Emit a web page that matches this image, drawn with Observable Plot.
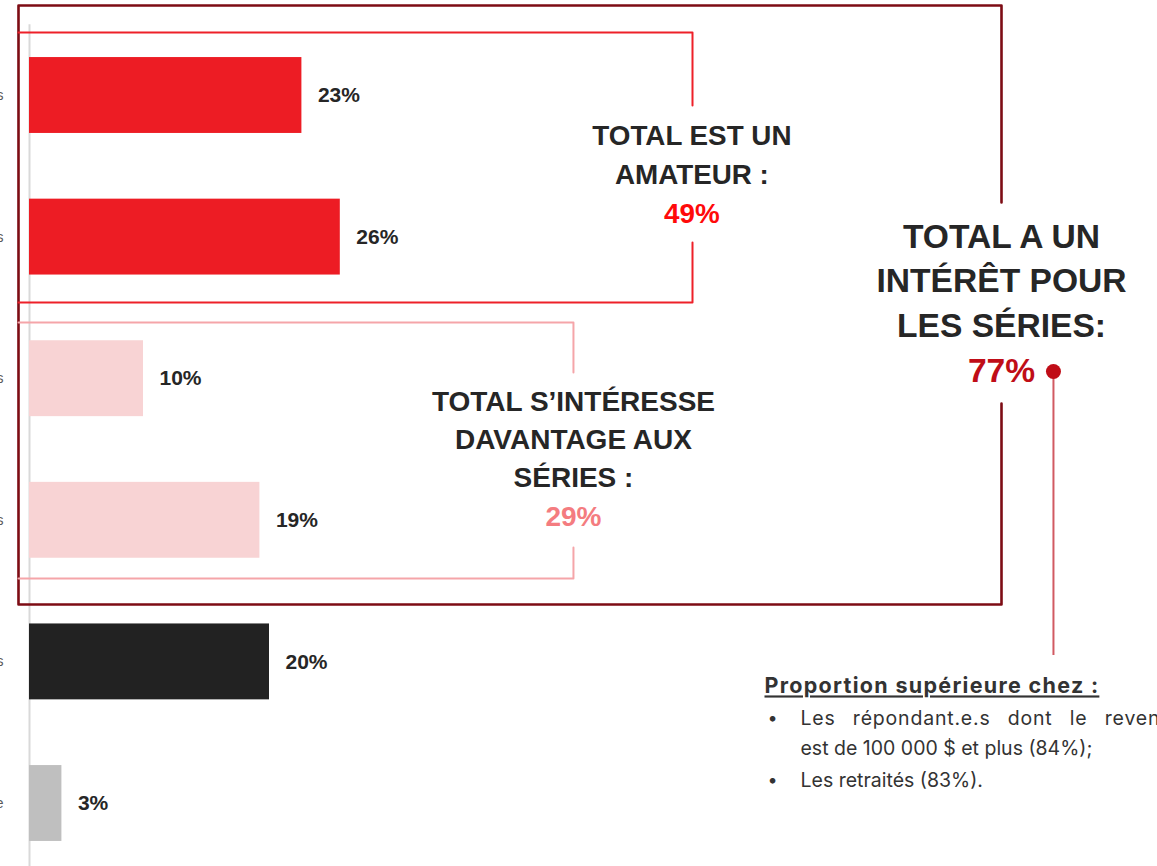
<!DOCTYPE html>
<html>
<head>
<meta charset="utf-8">
<script src="https://cdn.jsdelivr.net/npm/d3@7"></script>
<script src="https://cdn.jsdelivr.net/npm/@observablehq/plot@0.6"></script>
<style>
  html, body { margin: 0; padding: 0; background: #fff; overflow: hidden; }
  #chart svg { display: block; }
</style>
</head>
<body>
<div id="chart"></div>
<script>
// ---- data ----
const categories = [
  "Je suis un grand amateur de séries",
  "Je suis plutôt un amateur de séries",
  "Je m'intéresse beaucoup aux séries",
  "Je m'intéresse un peu aux séries",
  "Je ne m'intéresse pas aux séries",
  "Je ne sais pas / Préfère ne pas répondre"
];
const values = [22.7, 25.9, 9.5, 19.2, 20.0, 2.7];
const valueLabels = ["23%", "26%", "10%", "19%", "20%", "3%"];
const groups = ["amateur", "amateur", "interesse", "interesse", "non", "nsp"];

const amateurLines = ["TOTAL EST UN", "AMATEUR :"];
const amateurTotal = "49%";
const interesseLines = ["TOTAL S’INTÉRESSE", "DAVANTAGE AUX", "SÉRIES :"];
const interesseTotal = "29%";
const totalLines = ["TOTAL A UN", "INTÉRÊT POUR", "LES SÉRIES:"];
const totalValue = "77%";
const noteTitle = "Proportion supérieure chez :";
const noteBullets = ["Les répondant.e.s dont le revenu", "est de 100 000 $ et plus (84%);", "Les retraités (83%)."];
const noteBulletMarks = ["•", "", "•"];

// ---- styles ----
const groupColor = {amateur: "#ed1c24", interesse: "#f8d3d4", non: "#222222", nsp: "#bfbfbf"};
const half = 0.268;

const rows = categories.map((c, i) => ({i, c, v: values[i], label: valueLabels[i], g: groups[i]}));

// annotation geometry (in data units of the chart's scales)
const outerBox = [[81, 0.756], [81, -0.636], [-0.917, -0.636], [-0.917, 3.595], [81, 3.595], [81, 2.175]];
const redBoxA = [[-0.917, -0.445], [55.25, -0.445], [55.25, 0.071]];
const redBoxB = [[55.25, 1.038], [55.25, 1.462], [-0.917, 1.462]];
const pinkBoxA = [[-0.917, 1.603], [45.33, 1.603], [45.33, 1.956]];
const pinkBoxB = [[45.33, 3.192], [45.33, 3.411], [-0.917, 3.411]];

const amateurY = [0.29, 0.565];
const interesseY = [2.168, 2.436, 2.705];
const totalY = [1.003, 1.314, 1.631];
const noteY = [4.40, 4.612, 4.838];

const lineData = (pts, id) => pts.map(([x, y]) => ({x, y, id}));
const font = "'Liberation Sans', Arial, Helvetica, sans-serif";
const noteFont = "Inter, 'Liberation Sans', Arial, sans-serif";

const chart = Plot.plot({
  width: 1157,
  height: 866,
  marginLeft: 29,
  marginRight: 0,
  marginTop: 25,
  marginBottom: 0,
  style: {fontFamily: font, background: "#fff", overflow: "visible"},
  x: {domain: [0, 94], axis: null},
  y: {domain: [-0.5, 5.5], range: [24.2, 873.8], axis: null},
  marks: [
    Plot.ruleX([0], {stroke: "#d9d9d9", strokeWidth: 2, y1: -0.5, y2: 5.5}),
    Plot.axisY({ticks: [0,1,2,3,4,5], tickFormat: i => categories[i], tickSize: 0, tickPadding: 26, fontSize: 14, fill: "#595959", anchor: "left"}),
    Plot.rectX(rows, {x1: 0, x2: "v", y1: d => d.i - half, y2: d => d.i + half, fill: d => groupColor[d.g]}),
    Plot.text(rows, {x: "v", y: "i", text: "label", dx: 16, textAnchor: "start", fontSize: 21, fontWeight: "bold", fill: "#262626"}),
    // boxes
    Plot.line(lineData(outerBox, "o"), {x: "x", y: "y", stroke: "#7d0c14", strokeWidth: 2.6}),
    Plot.line(lineData(redBoxA, "a"), {x: "x", y: "y", stroke: "#ee2029", strokeWidth: 2}),
    Plot.line(lineData(redBoxB, "b"), {x: "x", y: "y", stroke: "#ee2029", strokeWidth: 2}),
    Plot.line(lineData(pinkBoxA, "c"), {x: "x", y: "y", stroke: "#f5a5a9", strokeWidth: 2}),
    Plot.line(lineData(pinkBoxB, "d"), {x: "x", y: "y", stroke: "#f5a5a9", strokeWidth: 2}),
    // amateur annotation
    Plot.text(amateurLines, {x: 55.2, y: (d, i) => amateurY[i], text: d => d, fontSize: 27.8, fontWeight: "bold", fill: "#262626"}),
    Plot.text([amateurTotal], {x: 55.2, y: 0.84, text: d => d, fontSize: 27.8, fontWeight: "bold", fill: "#ff0a0a"}),
    // interesse annotation
    Plot.text(interesseLines, {x: 45.33, y: (d, i) => interesseY[i], text: d => d, fontSize: 28, fontWeight: "bold", fill: "#262626"}),
    Plot.text([interesseTotal], {x: 45.33, y: 2.98, text: d => d, fontSize: 28, fontWeight: "bold", fill: "#f47c80"}),
    // total annotation
    Plot.text(totalLines, {x: 81, y: (d, i) => totalY[i], text: d => d, fontSize: 33.6, fontWeight: "bold", fill: "#262626"}),
    Plot.text([totalValue], {x: 81, y: 1.949, text: d => d, fontSize: 33.6, fontWeight: "bold", fill: "#c00d17"}),
    Plot.ruleX([85.33], {y1: 1.949, y2: 3.955, stroke: "#d15a62", strokeWidth: 2}),
    Plot.dot([85.33], {x: d => d, y: 1.949, r: 7.5, fill: "#c00d17", stroke: "none"}),
    // note
    Plot.text([noteTitle], {x: 61.25, y: 4.174, text: d => d, textAnchor: "start", fontSize: 21.5, fontWeight: "bold", fill: "#333", fontFamily: noteFont}),
    Plot.text(noteBulletMarks, {x: 61.5, y: (d, i) => noteY[i], text: d => d, textAnchor: "start", fontSize: 18, fill: "#333", fontFamily: noteFont}),
    Plot.text(noteBullets, {x: 64.25, y: (d, i) => noteY[i], text: d => d, textAnchor: "start", fontSize: 19.5, fill: "#333", fontFamily: noteFont})
  ]
});

const sel = d3.select(chart).selectAll("text");
sel.filter(function() { return this.textContent === noteTitle; })
  .style("text-decoration", "underline").style("letter-spacing", "1.3px");
// first bullet line is justified (stretched) in the original text box
sel.filter(function() { return this.textContent === noteBullets[0]; })
  .style("word-spacing", "11px").style("letter-spacing", "0.8px");
document.getElementById("chart").appendChild(chart);
</script>
</body>
</html>
